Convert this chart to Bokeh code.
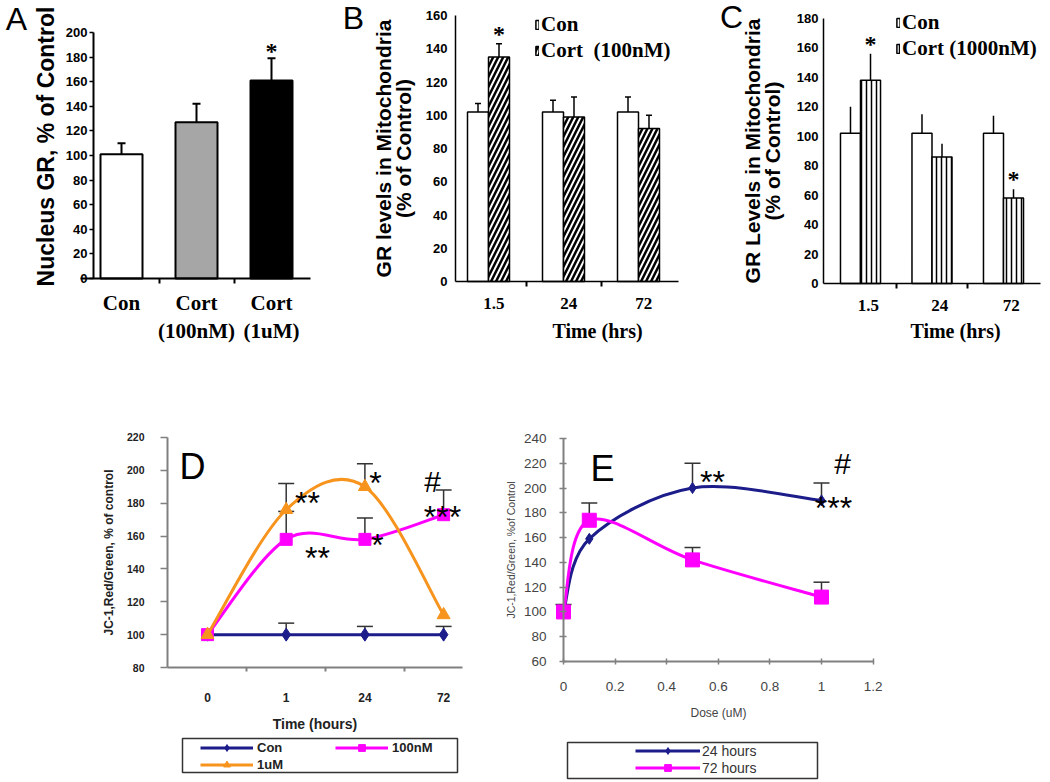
import numpy as np
from bokeh.plotting import figure
from bokeh.layouts import row, column
from bokeh.models import (Range1d, FixedTicker, Whisker, TeeHead, ColumnDataSource,
                          Legend, LegendItem, Label, BoxAnnotation)
from bokeh.embed import file_html
from bokeh.resources import INLINE
from bokeh.core.properties import value

SANS = "Liberation Sans"
SERIF = "Liberation Serif"
NAVY = "#1c1c8a"
MAG = "#ff00ff"
ORG = "#f7941d"

# ---------------- data ----------------
# Panel A
a_groups = ["Con", "Cort\n(100nM)", "Cort\n(1uM)"]
a_values = [101, 127, 161]
a_errors = [9, 15, 18]
a_fill = ["white", "#a6a6a6", "black"]
a_sig = ["", "", "*"]
a_yticks = list(range(0, 201, 20))

# Panel B
b_times = ["1.5", "24", "72"]
b_con = [102, 102, 102]
b_con_err = [5, 7, 9]
b_cort = [135, 99, 92]
b_cort_err = [8, 12, 8]
b_sig = ["*", "", ""]
b_yticks = list(range(0, 161, 20))

# Panel C
c_times = ["1.5", "24", "72"]
c_con = [102, 102, 102]
c_con_err = [18, 13, 12]
c_cort = [138, 86, 58]
c_cort_err = [18, 9, 6]
c_sig = ["*", "", "*"]
c_yticks = list(range(0, 181, 20))

# Panel D
d_times = ["0", "1", "24", "72"]
d_con = [100, 100, 100, 100]
d_con_err = [0, 7, 5, 5]
d_100 = [100, 158, 158, 173]
d_100_err = [0, 17, 13, 15]
d_1u = [100, 176, 190, 112]
d_1u_err = [0, 16, 14, 0]
d_yticks = list(range(80, 221, 20))

# Panel E
e_dose = [0, 0.1, 0.5, 1.0]
e_24 = [100, 159, 200, 190]
e_24_err = [6, 0, 20, 14]
e_72 = [100, 174, 142, 112]
e_72_err = [0, 14, 10, 12]
e_xticks = [0, 0.2, 0.4, 0.6, 0.8, 1.0, 1.2]
e_yticks = list(range(60, 241, 20))


# ---------------- geometry helpers ----------------
class Geo:
    """Figure box in page pixels and the pixel position/scale of the data axes."""
    def __init__(self, left, top, width, height, xd, xp, xs, yd, yp, ys):
        self.left, self.top, self.width, self.height = left, top, width, height
        self.xd, self.xp, self.xs = xd, xp, xs
        self.yd, self.yp, self.ys = yd, yp, ys

    def X(self, px):
        return self.xd + (px - self.xp) / self.xs

    def Y(self, py):
        return self.yd + (self.yp - py) / self.ys

    def figure(self):
        p = figure(width=self.width, height=self.height,
                   x_range=Range1d(self.X(self.left), self.X(self.left + self.width)),
                   y_range=Range1d(self.Y(self.top + self.height), self.Y(self.top)),
                   min_border=0, min_border_left=0, min_border_right=0,
                   min_border_top=0, min_border_bottom=0,
                   toolbar_location=None, output_backend="svg")
        p.outline_line_color = None
        p.xgrid.visible = False
        p.ygrid.visible = False
        return p

    def loc(self, px_left, py_bottom):
        return (px_left - self.left, self.top + self.height - py_bottom)


GA = Geo(0, 0, 343, 390, 0, 121, 75, 0, 278, 1.23)
GB = Geo(343, 0, 340, 390, 0, 488, 75, 0, 281, 1.6625)
GC = Geo(683, 0, 365, 390, 0, 860, 71.5, 0, 283, 1.472)
GD = Geo(0, 390, 490, 390, 0, 207, 78.7, 80, 667, 1.643)
GE = Geo(490, 390, 410, 390, 0, 563, 258, 60, 661, 1.239)


def add_err(p, xs, lo, err, head_size, color="black", width=2.0):
    keep = [i for i, e in enumerate(err) if e > 0]
    src = ColumnDataSource(dict(x=[xs[i] for i in keep],
                                lower=[lo[i] for i in keep],
                                upper=[lo[i] + err[i] for i in keep]))
    head = TeeHead(size=head_size, line_color=color, line_width=width) if head_size else None
    p.add_layout(Whisker(source=src, base="x", lower="lower", upper="upper",
                         dimension="height", line_color=color, line_width=width,
                         upper_head=head, lower_head=None))


def bezier_segments(xs, ys):
    xs = np.asarray(xs, float)
    ys = np.asarray(ys, float)
    px = np.concatenate([[xs[0]], xs, [xs[-1]]])
    py = np.concatenate([[ys[0]], ys, [ys[-1]]])
    i = np.arange(len(xs) - 1)
    return dict(x0=xs[:-1], y0=ys[:-1], x1=xs[1:], y1=ys[1:],
                cx0=px[i + 1] + (px[i + 2] - px[i]) / 6.0,
                cy0=py[i + 1] + (py[i + 2] - py[i]) / 6.0,
                cx1=px[i + 2] - (px[i + 3] - px[i + 1]) / 6.0,
                cy1=py[i + 2] - (py[i + 3] - py[i + 1]) / 6.0)


def style_y(p, ticks, loc, bounds, title, title_size, lw, color="black",
            tick_out=4, tick_in=0, label_size="13px", label_style="bold",
            label_color="black", standoff=3, title_standoff=6, title_style="bold",
            line_height=1.0):
    ax = p.yaxis[0]
    ax.fixed_location = loc
    ax.bounds = bounds
    ax.ticker = FixedTicker(ticks=ticks)
    ax.axis_line_width = lw
    ax.axis_line_color = color
    ax.major_tick_line_color = color
    ax.major_tick_line_width = 1.5
    ax.major_tick_out = tick_out
    ax.major_tick_in = tick_in
    ax.minor_tick_out = 0
    ax.minor_tick_in = 0
    ax.major_label_text_font = SANS
    ax.major_label_text_font_style = label_style
    ax.major_label_text_font_size = label_size
    ax.major_label_text_color = label_color
    ax.major_label_standoff = standoff
    if title:
        ax.axis_label = title
        ax.axis_label_text_font = SANS
        ax.axis_label_text_font_style = title_style
        ax.axis_label_text_font_size = title_size
        ax.axis_label_text_color = label_color
        ax.axis_label_text_line_height = line_height
        ax.axis_label_standoff = title_standoff


def style_x_cat(p, ticks, minor, labels, loc, bounds, lw, size, standoff):
    ax = p.xaxis[0]
    ax.fixed_location = loc
    ax.bounds = bounds
    ax.ticker = FixedTicker(ticks=ticks, minor_ticks=minor)
    ax.major_label_overrides = {t: l for t, l in zip(ticks, labels)}
    ax.axis_line_width = lw
    ax.major_tick_out = 0
    ax.major_tick_in = 0
    ax.minor_tick_out = 5
    ax.minor_tick_in = 0
    ax.minor_tick_line_width = 2
    ax.major_label_text_font = SERIF
    ax.major_label_text_font_style = "bold"
    ax.major_label_text_font_size = size
    ax.major_label_text_color = "black"
    ax.major_label_standoff = standoff


def label(p, g, px, py, t, size, font=SANS, style="normal", color="black", angle=0.0):
    p.add_layout(Label(x=g.X(px), y=g.Y(py), text=t, text_font=font, text_font_size=size,
                       text_font_style=style, text_color=color, angle=angle,
                       text_align="center", text_baseline="middle"))


def stars(p, xs, ys, texts, size, font=SANS, style="normal"):
    p.text(x=xs, y=ys, text=texts, text_align="center", text_baseline="middle",
           text_font=value(font), text_font_size=size, text_font_style=style,
           text_color="black")


def bar_legend(p, g, items, px_left, py_bottom):
    leg = Legend(items=items, location=g.loc(px_left, py_bottom),
                 border_line_color=None, background_fill_alpha=0,
                 glyph_width=4, glyph_height=11, label_text_font=SERIF,
                 label_text_font_style="bold", label_text_font_size="21px",
                 label_text_color="black",
                 label_standoff=2, spacing=1, padding=0, margin=0, label_height=22)
    p.add_layout(leg)


# ---------------- Panel A ----------------
pa = GA.figure()
ax_a = list(range(len(a_groups)))
pa.vbar(x=ax_a, top=a_values, width=0.56, fill_color=a_fill,
        line_color="black", line_width=2)
add_err(pa, ax_a, a_values, a_errors, 8)
stars(pa, ax_a, [v + e + 6 for v, e in zip(a_values, a_errors)], a_sig, "24px", SERIF, "bold")
style_y(pa, a_yticks, GA.X(93), (0, 200), None, None, 2, standoff=2)
label(pa, GA, 45, 146, "Nucleus GR, % of Control", "23px", SANS, "bold", angle=np.pi / 2)
style_x_cat(pa, ax_a, [0.5, 1.5], a_groups, 0, (GA.X(80), GA.X(310)), 2, "21px", 7)
label(pa, GA, 16, 18, "A", "32px")

# ---------------- Panel B ----------------
pb = GB.figure()
gx_b = np.arange(len(b_times))
bw = 0.28
r_bcon = pb.vbar(x=gx_b - bw / 2, top=b_con, width=bw, fill_color="white",
                 line_color="black", line_width=1.5)
r_bcort = pb.vbar(x=gx_b + bw / 2, top=b_cort, width=bw, fill_color="white",
                  line_color="black", line_width=1.5, hatch_pattern="/",
                  hatch_color="black", hatch_scale=10, hatch_weight=2.5)
add_err(pb, list(gx_b - bw / 2), b_con, b_con_err, 6, width=1.5)
add_err(pb, list(gx_b + bw / 2), b_cort, b_cort_err, 6, width=1.5)
stars(pb, list(gx_b + bw / 2), [v + e + 6 for v, e in zip(b_cort, b_cort_err)], b_sig, "24px", SERIF, "bold")
style_y(pb, b_yticks, GB.X(455), (0, 160), "GR levels in Mitochondria\n(% of Control)",
        "21px", 1.5, tick_out=0, standoff=8, title_standoff=8, line_height=0.85)
style_x_cat(pb, list(gx_b + 0.07), [0.5, 1.5], b_times, 0, (GB.X(455), GB.X(678)), 1.5, "17px", 11)
label(pb, GB, 353, 17, "B", "32px")
label(pb, GB, 597, 330, "Time (hrs)", "20px", SERIF, "bold")
bar_legend(pb, GB, [LegendItem(label="Con", renderers=[r_bcon]),
                    LegendItem(label="Cort  (100nM)", renderers=[r_bcort])], 535, 63)

# ---------------- Panel C ----------------
pc = GC.figure()
gx_c = np.arange(len(c_times))
r_ccon = pc.vbar(x=gx_c - bw / 2, top=c_con, width=bw, fill_color="white",
                 line_color="black", line_width=1.5)
r_ccort = pc.vbar(x=gx_c + bw / 2, top=c_cort, width=bw, fill_color="white",
                  line_color="black", line_width=1.5, hatch_pattern="|",
                  hatch_color="black", hatch_scale=5, hatch_weight=1.5)
add_err(pc, list(gx_c - bw / 2), c_con, c_con_err, 0, width=1.5)
add_err(pc, list(gx_c + bw / 2), c_cort, c_cort_err, 0, width=1.5)
stars(pc, list(gx_c + bw / 2), [v + e + 7 for v, e in zip(c_cort, c_cort_err)], c_sig, "24px", SERIF, "bold")
style_y(pc, c_yticks, GC.X(823), (0, 180), "GR Levels in Mitochondria\n(% of Control)",
        "21px", 1.5, tick_out=0, standoff=5, title_standoff=10, line_height=0.85)
style_x_cat(pc, list(gx_c + 0.11), [0.5, 1.5], c_times, 0, (GC.X(823), GC.X(1040)), 1.5, "17px", 11)
label(pc, GC, 731, 16, "C", "32px")
label(pc, GC, 955, 330, "Time (hrs)", "20px", SERIF, "bold")
bar_legend(pc, GC, [LegendItem(label="Con", renderers=[r_ccon]),
                    LegendItem(label="Cort (1000nM)", renderers=[r_ccort])], 896, 61)

# ---------------- Panel D ----------------
pd_ = GD.figure()
dx = list(range(len(d_times)))
add_err(pd_, dx, d_con, d_con_err, 16, color="#333333", width=1.5)
add_err(pd_, dx, d_100, d_100_err, 16, color="#333333", width=1.5)
add_err(pd_, dx, d_1u, d_1u_err, 16, color="#333333", width=1.5)
l_dc = pd_.bezier(**bezier_segments(dx, d_con), line_color=NAVY, line_width=3)
s_dc = pd_.scatter(dx, d_con, marker="diamond", size=13, color=NAVY)
l_d1 = pd_.bezier(**bezier_segments(dx, d_100), line_color=MAG, line_width=3)
s_d1 = pd_.scatter(dx, d_100, marker="square", size=12, color=MAG)
l_d2 = pd_.bezier(**bezier_segments(dx, d_1u), line_color=ORG, line_width=3)
s_d2 = pd_.scatter(dx, d_1u, marker="triangle", size=13, color=ORG)
for t, px, py in [("**", 307, 498), ("**", 317, 553), ("*", 375, 478),
                  ("*", 377, 540), ("***", 442, 512)]:
    label(pd_, GD, px, py + 4, t, "32px")
label(pd_, GD, 432, 481, "#", "30px")
label(pd_, GD, 192, 466, "D", "36px")

style_y(pd_, d_yticks, GD.X(167), (80, 220), "JC-1,Red/Green, % of control", "12px", 2,
        color="#808080", tick_out=7, label_size="10.5px", label_color="#222222",
        standoff=16, title_standoff=8)
xd = pd_.xaxis[0]
xd.fixed_location = 80
xd.bounds = (GD.X(167), GD.X(462))
xd.ticker = FixedTicker(ticks=dx, minor_ticks=[0.5, 1.5, 2.5])
xd.major_label_overrides = {t: l for t, l in zip(dx, d_times)}
xd.axis_line_color = "#808080"
xd.axis_line_width = 2
xd.major_tick_out = 0
xd.major_tick_in = 0
xd.minor_tick_out = 4
xd.minor_tick_in = 0
xd.minor_tick_line_color = "#808080"
xd.minor_tick_line_width = 2
xd.major_label_text_font = SANS
xd.major_label_text_font_style = "bold"
xd.major_label_text_font_size = "12px"
xd.major_label_text_color = "#222222"
xd.major_label_standoff = 21
xd.axis_label = "Time (hours)"
xd.axis_label_text_font = SANS
xd.axis_label_text_font_style = "bold"
xd.axis_label_text_font_size = "14px"
xd.axis_label_text_color = "#222222"
xd.axis_label_standoff = 11

pd_.add_layout(BoxAnnotation(left=GD.X(182), right=GD.X(457), top=GD.Y(738), bottom=GD.Y(772),
                             fill_color=None, fill_alpha=0, line_color="#333333",
                             line_alpha=1, line_width=1.5))
leg_d = Legend(items=[LegendItem(label="Con", renderers=[l_dc, s_dc]),
                      LegendItem(label="100nM", renderers=[l_d1, s_d1]),
                      LegendItem(label="1uM", renderers=[l_d2, s_d2])],
               orientation="horizontal", ncols=2, location=GD.loc(200, 773),
               border_line_color=None, background_fill_alpha=0,
               glyph_width=53, glyph_height=17, label_width=78,
               label_text_font=SANS, label_text_font_style="bold",
               label_text_font_size="13px", label_text_color="#222222",
               label_standoff=4, label_height=17,
               spacing=0, padding=0, margin=0)
pd_.add_layout(leg_d)

# ---------------- Panel E ----------------
pe = GE.figure()
add_err(pe, e_dose, e_24, e_24_err, 16, color="#333333", width=1.5)
add_err(pe, e_dose, e_72, e_72_err, 16, color="#333333", width=1.5)
l_e1 = pe.bezier(**bezier_segments(e_dose, e_24), line_color=NAVY, line_width=3)
s_e1 = pe.scatter(e_dose, e_24, marker="diamond", size=11, color=NAVY)
l_e2 = pe.bezier(**bezier_segments(e_dose, e_72), line_color=MAG, line_width=3)
s_e2 = pe.scatter(e_dose, e_72, marker="square", size=14, color=MAG)
for t, px, py in [("**", 712, 477), ("***", 833, 503)]:
    label(pe, GE, px, py + 4, t, "32px")
label(pe, GE, 842, 463, "#", "30px")
label(pe, GE, 602, 468, "E", "36px")

style_y(pe, e_yticks, 0, (60, 240), "JC-1,Red/Green, %of Control", "10.5px", 2,
        color="#808080", tick_out=4, tick_in=3, label_size="13.5px", label_style="normal",
        label_color="#444444", standoff=13, title_standoff=4, title_style="normal")
xe = pe.xaxis[0]
xe.fixed_location = 60
xe.bounds = (0, 1.2)
xe.ticker = FixedTicker(ticks=e_xticks)
xe.axis_line_color = "#808080"
xe.axis_line_width = 2
xe.major_tick_line_color = "#808080"
xe.major_tick_line_width = 1.5
xe.major_tick_out = 3
xe.major_tick_in = 3
xe.minor_tick_out = 0
xe.minor_tick_in = 0
xe.major_label_text_font = SANS
xe.major_label_text_color = "#444444"
xe.major_label_text_font_size = "13.5px"
xe.major_label_standoff = 17
xe.axis_label = "Dose (uM)"
xe.axis_label_text_font = SANS
xe.axis_label_text_font_style = "normal"
xe.axis_label_text_color = "#444444"
xe.axis_label_text_font_size = "12px"
xe.axis_label_standoff = 12

pe.add_layout(BoxAnnotation(left=GE.X(567), right=GE.X(817), top=GE.Y(742), bottom=GE.Y(778),
                            fill_color=None, fill_alpha=0, line_color="#333333",
                            line_alpha=1, line_width=1.5))
leg_e = Legend(items=[LegendItem(label="24 hours", renderers=[l_e1, s_e1]),
                      LegendItem(label="72 hours", renderers=[l_e2, s_e2])],
               location=GE.loc(635, 776), border_line_color=None, background_fill_alpha=0,
               glyph_width=65, glyph_height=17, label_text_font=SANS,
               label_text_font_size="14px", label_text_color="#333333",
               label_standoff=2, label_height=17,
               spacing=0, padding=0, margin=0)
pe.add_layout(leg_e)

layout = column(row(pa, pb, pc), row(pd_, pe))
open("out.html", "w").write(file_html(layout, INLINE))
